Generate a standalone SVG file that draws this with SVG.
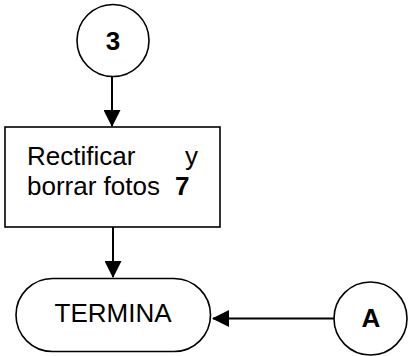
<svg xmlns="http://www.w3.org/2000/svg" width="409" height="356" viewBox="0 0 409 356">
<defs>
<style>
.shape{fill:#fff;stroke:#000;stroke-width:1.6}
.t{font-family:"Liberation Sans",Arial,sans-serif;font-size:26px;fill:#000}
.b{font-weight:bold}
.edge{stroke:#000;stroke-width:2;fill:none}
</style>
<marker id="arr" markerWidth="17" markerHeight="17" viewBox="0 0 17 17" refX="16" refY="8.5" orient="auto" markerUnits="userSpaceOnUse">
<path d="M0,0 L17,8.5 L0,17 Z" fill="#000"/>
</marker>
</defs>
<rect width="409" height="356" fill="#fff"/>
<g id="connectors">
<line class="edge" x1="112" y1="77" x2="112" y2="126" marker-end="url(#arr)"/>
<line class="edge" x1="113" y1="227" x2="113" y2="277" marker-end="url(#arr)"/>
<line class="edge" x1="334" y1="318.5" x2="213" y2="318.5" marker-end="url(#arr)"/>
</g>
<g id="node-3">
<circle class="shape" cx="113" cy="40.5" r="36"/>
<text class="t b" x="113" y="49.5" text-anchor="middle">3</text>
</g>
<g id="node-rectificar">
<rect class="shape" x="5" y="127" width="215" height="100"/>
<text class="t" x="27" y="165">Rectificar</text>
<text class="t" x="198" y="165" text-anchor="end">y</text>
<text class="t" x="27" y="195">borrar fotos</text>
<text class="t b" x="175" y="195">7</text>
</g>
<g id="node-termina">
<rect class="shape" x="16" y="278.5" width="194.5" height="73" rx="36.5" ry="36.5"/>
<text class="t" x="113" y="321.5" text-anchor="middle">TERMINA</text>
</g>
<g id="node-A">
<circle class="shape" cx="370.5" cy="318.5" r="36.5"/>
<text class="t b" x="371" y="326.5" text-anchor="middle">A</text>
</g>
</svg>
